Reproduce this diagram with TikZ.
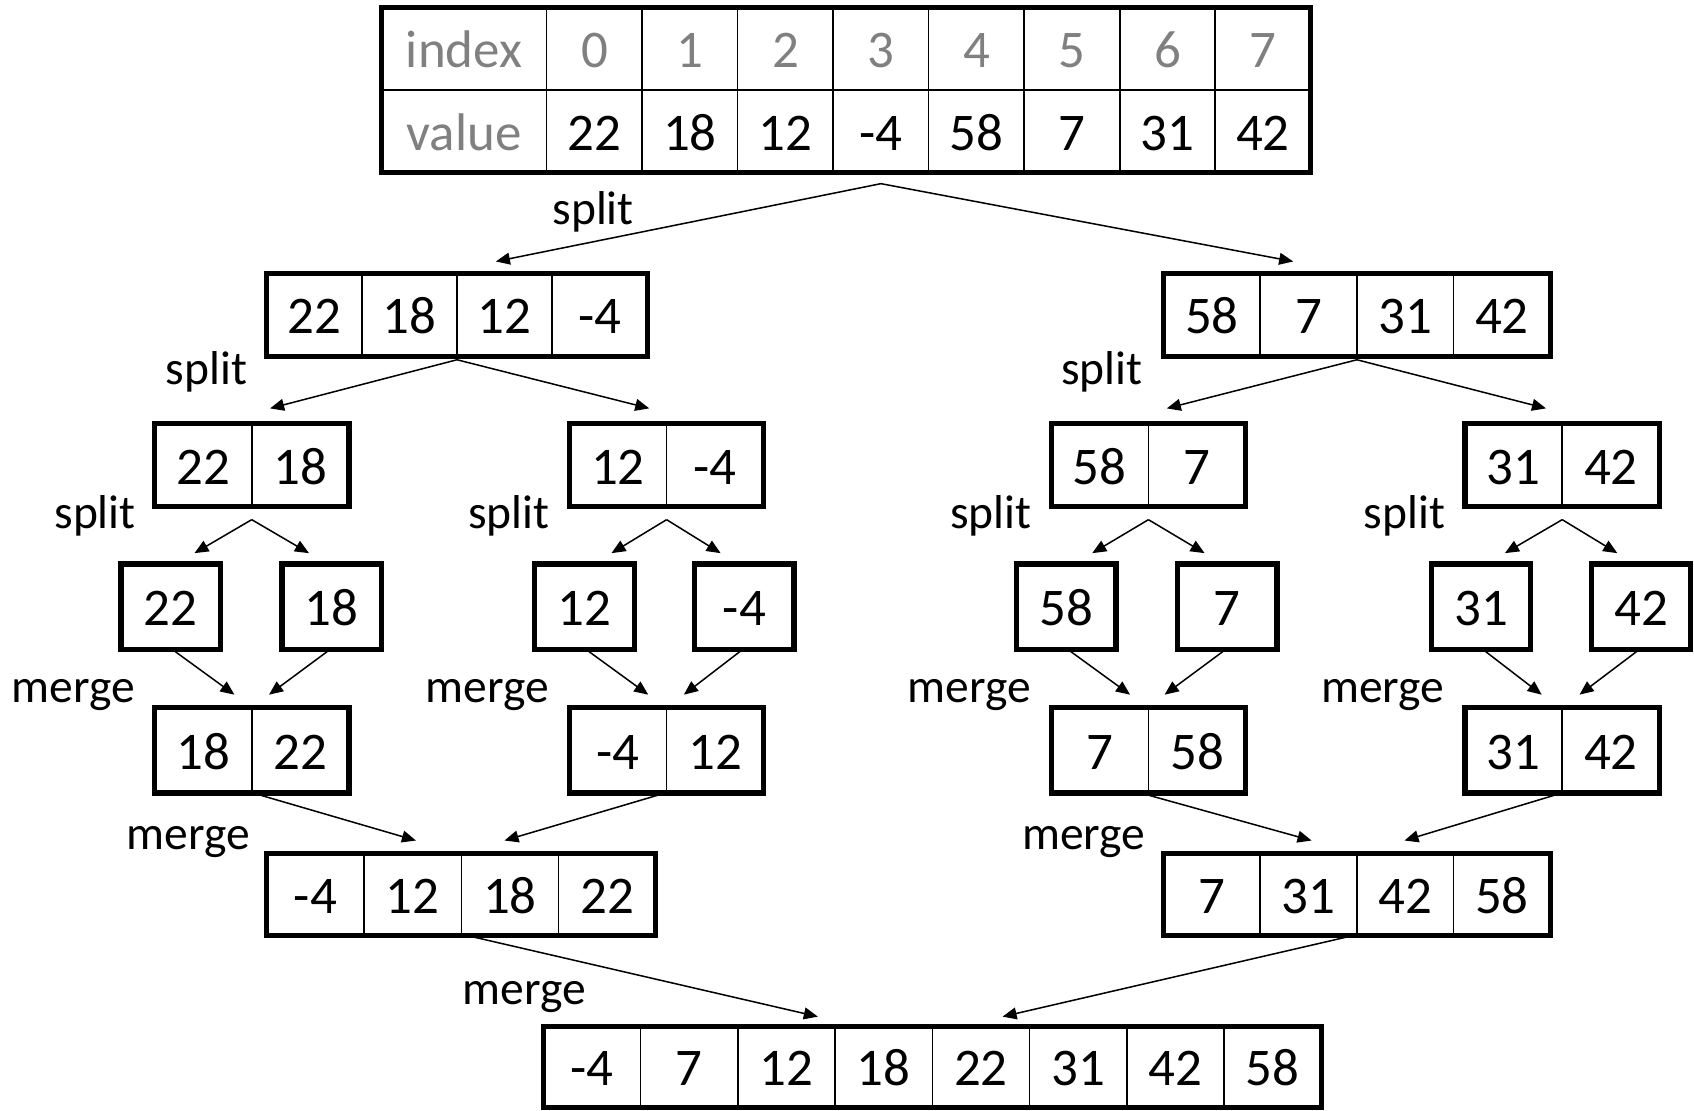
\documentclass[tikz,border=0pt]{standalone}
\usepackage{fontspec}
\setmainfont{Carlito}
\usetikzlibrary{arrows.meta}
\newcommand\numfont{\fontsize{24.5}{24.5}\selectfont}
\newcommand\lblfont{\fontsize{22}{22}\selectfont}
\tikzset{
  cellst/.style={draw, line width=0.75pt, inner sep=0pt, outer sep=0pt, font=\numfont, anchor=north west, text height=17.5pt, text depth=0pt},
  outerst/.style={draw, line width=2.4pt, inner sep=0pt, outer sep=0pt, anchor=north west},
  lbl/.style={font=\lblfont, inner sep=0pt},
  splitlbl/.style={lbl, yshift=-1.5pt},
  mergelbl/.style={lbl, yshift=-3pt},
  arr/.style={line width=0.7pt, -{Triangle[length=6.5pt,width=5.5pt]}},
}
% #1 name, #2 left, #3 top, #4 cell width, #5 height, #6 count, #7 values
\newcommand\cellbox[7]{%
  \foreach \v [count=\i] in {#7} {
    \node[cellst, minimum width=#4*0.5pt, minimum height=#5*0.5pt] (#1-\i) at ({#2+(\i-1)*#4},#3) {\v};
  }
  \node[outerst, minimum width=#6*#4*0.5pt, minimum height=#5*0.5pt] (#1) at (#2,#3) {};
}
\begin{document}
\begin{tikzpicture}[x=0.5pt,y=-0.5pt]
\useasboundingbox (0,0) rectangle (1568,1028);

% top table
\node[cellst, text=gray, minimum width=153*0.5pt, minimum height=76.5*0.5pt] (ih) at (353,7) {index};
\node[cellst, minimum width=153*0.5pt, minimum height=76.5*0.5pt, text=gray] (vh) at (353,83.5) {value};
\foreach \v [count=\i] in {0,1,2,3,4,5,6,7} {
  \node[cellst, text=gray, minimum width=88.4*0.5pt, minimum height=76.5*0.5pt] (ix-\i) at ({506+(\i-1)*88.4},7) {\v};
}
\foreach \v [count=\i] in {22,18,12,-4,58,7,31,42} {
  \node[cellst, minimum width=88.4*0.5pt, minimum height=76.5*0.5pt] (va-\i) at ({506+(\i-1)*88.4},83.5) {\v};
}
\node[outerst, minimum width=860.2*0.5pt, minimum height=153*0.5pt] (top) at (353,7) {};

% level 2
\cellbox{lA}{247}{253}{88}{77}{4}{22,18,12,-4}
\cellbox{lB}{1077}{253}{89.5}{77}{4}{58,7,31,42}

% level 3
\cellbox{mA}{143}{392}{90}{77}{2}{22,18}
\cellbox{mB}{527}{392}{90}{77}{2}{12,-4}
\cellbox{mC}{973}{392}{90}{77}{2}{58,7}
\cellbox{mD}{1356}{392}{90}{77}{2}{31,42}

% level 4 singles
\cellbox{sA}{112}{522}{92}{79}{1}{22}
\cellbox{sB}{261}{522}{92}{79}{1}{18}
\cellbox{sC}{495}{522}{92}{79}{1}{12}
\cellbox{sD}{643}{522}{92}{79}{1}{-4}
\cellbox{sE}{941}{522}{92}{79}{1}{58}
\cellbox{sF}{1090}{522}{92}{79}{1}{7}
\cellbox{sG}{1325}{522}{92}{79}{1}{31}
\cellbox{sH}{1473}{522}{92}{79}{1}{42}

% level 5
\cellbox{nA}{143}{655}{90}{79}{2}{18,22}
\cellbox{nB}{527}{655}{90}{79}{2}{-4,12}
\cellbox{nC}{973}{655}{90}{79}{2}{7,58}
\cellbox{nD}{1356}{655}{90}{79}{2}{31,42}

% level 6
\cellbox{pA}{247}{790}{90}{76}{4}{-4,12,18,22}
\cellbox{pB}{1077}{790}{89.5}{76}{4}{7,31,42,58}

% bottom
\cellbox{fin}{503}{950}{90}{75}{8}{-4,7,12,18,22,31,42,58}

% labels
\node[splitlbl] (l1) at (549,193) {split};
\node[splitlbl] (l2) at (191,341) {split};
\node[splitlbl] (l3) at (1020,341) {split};
\node[splitlbl] (l4) at (88,474) {split};
\node[splitlbl] (l5) at (471,474) {split};
\node[splitlbl] (l6) at (917,474) {split};
\node[splitlbl] (l7) at (1300,474) {split};
\node[mergelbl] (l8) at (68,637) {merge};
\node[mergelbl] (l9) at (451,637) {merge};
\node[mergelbl] (l10) at (897,637) {merge};
\node[mergelbl] (l11) at (1280,637) {merge};
\node[mergelbl] (l12) at (174,773) {merge};
\node[mergelbl] (l13) at (1003,773) {merge};
\node[mergelbl] (l14) at (485,917) {merge};

% arrow end coordinates
\coordinate (e1) at (459,242);
\coordinate (e2) at (1197,242);
\coordinate (e3) at (250,378);
\coordinate (e4) at (601,378);
\coordinate (e5) at (1080,378);
\coordinate (e6) at (1431,378);
\coordinate (e7) at (180,512);
\coordinate (e8) at (286,512);
\coordinate (e9) at (566,512);
\coordinate (e10) at (667,512);
\coordinate (e11) at (1011,512);
\coordinate (e12) at (1115,512);
\coordinate (e13) at (1393,512);
\coordinate (e14) at (1497,512);
\coordinate (e15) at (217,643);
\coordinate (e16) at (249,643);
\coordinate (e17) at (600,643);
\coordinate (e18) at (633,643);
\coordinate (e19) at (1046,643);
\coordinate (e20) at (1078,643);
\coordinate (e21) at (1427,643);
\coordinate (e22) at (1462,643);
\coordinate (e23) at (385,778);
\coordinate (e24) at (467,778);
\coordinate (e25) at (1214,778);
\coordinate (e26) at (1300,778);
\coordinate (e27) at (757,941);
\coordinate (e28) at (928,941);

% split arrows
\draw[arr] ([yshift=-5pt]va-4.south) -- (e1);
\draw[arr] ([yshift=-5pt]va-4.south) -- (e2);
\draw[arr] ([yshift=-1.5pt]lA.south) -- (e3);
\draw[arr] ([yshift=-1.5pt]lA.south) -- (e4);
\draw[arr] ([yshift=-1.5pt]lB.south) -- (e5);
\draw[arr] ([yshift=-1.5pt]lB.south) -- (e6);
\draw[arr] ([yshift=-6pt]mA.south) -- (e7);
\draw[arr] ([yshift=-6pt]mA.south) -- (e8);
\draw[arr] ([yshift=-6pt]mB.south) -- (e9);
\draw[arr] ([yshift=-6pt]mB.south) -- (e10);
\draw[arr] ([yshift=-6pt]mC.south) -- (e11);
\draw[arr] ([yshift=-6pt]mC.south) -- (e12);
\draw[arr] ([yshift=-6pt]mD.south) -- (e13);
\draw[arr] ([yshift=-6pt]mD.south) -- (e14);

% merge arrows
\draw[arr] ([xshift=2pt,yshift=-1pt]sA.south) -- (e15);
\draw[arr] ([xshift=-2pt,yshift=-1pt]sB.south) -- (e16);
\draw[arr] ([xshift=2pt,yshift=-1pt]sC.south) -- (e17);
\draw[arr] ([xshift=-2pt,yshift=-1pt]sD.south) -- (e18);
\draw[arr] ([xshift=2pt,yshift=-1pt]sE.south) -- (e19);
\draw[arr] ([xshift=-2pt,yshift=-1pt]sF.south) -- (e20);
\draw[arr] ([xshift=2pt,yshift=-1pt]sG.south) -- (e21);
\draw[arr] ([xshift=-2pt,yshift=-1pt]sH.south) -- (e22);
\draw[arr] ([xshift=4pt,yshift=-1pt]nA.south) -- (e23);
\draw[arr] ([xshift=-4pt,yshift=-1pt]nB.south) -- (e24);
\draw[arr] ([yshift=-1pt]nC.south) -- (e25);
\draw[arr] ([xshift=-3.5pt,yshift=-1pt]nD.south) -- (e26);
\draw[arr] ([xshift=5pt,yshift=-0.5pt]pA.south) -- (e27);
\draw[arr] ([xshift=-4pt,yshift=-0.5pt]pB.south) -- (e28);
\end{tikzpicture}
\end{document}
